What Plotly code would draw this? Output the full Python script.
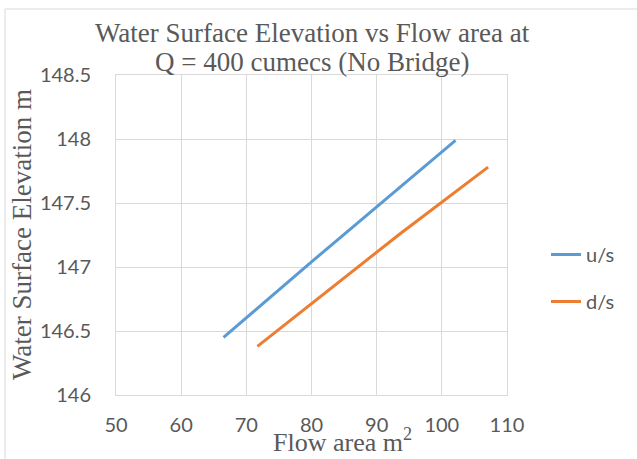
import plotly.graph_objects as go

# Flow area (m^2) against water surface elevation (m), Q = 400 cumecs, no bridge
us_area = [66.5, 80.0, 102.1]
us_wse = [146.45, 147.04, 147.99]
ds_area = [71.7, 93.6, 107.1]
ds_wse = [146.38, 147.26, 147.78]

x_ticks = [50, 60, 70, 80, 90, 100, 110]
y_ticks = [146, 146.5, 147, 147.5, 148, 148.5]
y_tick_text = ["146", "146.5", "147", "147.5", "148", "148.5"]

title_lines = ["Water Surface Elevation vs Flow area at", "Q = 400 cumecs (No Bridge)"]

GRAY_TEXT = "#595959"
GRID = "#d9d9d9"
SERIF = "Liberation Serif"
SANS = "Lato"

W, H = 637, 459
L, R, T, B = 116, 130, 75, 64
pw, ph = W - L - R, H - T - B


def px_x(px):
    return (px - L) / pw


def px_y(py):
    return 1 - (py - T) / ph


fig = go.Figure()
fig.add_trace(go.Scatter(x=us_area, y=us_wse, mode="lines", name="u/s",
                         line=dict(color="#5B9BD5", width=3), legendgroup="a"))
fig.add_trace(go.Scatter(x=ds_area, y=ds_wse, mode="lines", name="d/s",
                         line=dict(color="#ED7D31", width=3), legendgroup="b"))

fig.update_layout(
    width=W, height=H,
    margin=dict(l=L, r=R, t=T, b=B),
    paper_bgcolor="white", plot_bgcolor="white",
    showlegend=True,
    legend=dict(x=px_x(546), xanchor="left", y=px_y(235), yanchor="top",
                font=dict(family=SANS, size=20, color=GRAY_TEXT),
                tracegroupgap=18, traceorder="grouped", bgcolor="rgba(0,0,0,0)"),
    xaxis=dict(range=[50, 110], tickvals=x_ticks, showgrid=True, gridcolor=GRID, gridwidth=1,
               zeroline=False, showline=True, linecolor=GRID, linewidth=1, mirror=True,
               ticks="", ticklabelstandoff=12,
               tickfont=dict(family=SANS, size=20, color=GRAY_TEXT)),
    yaxis=dict(range=[146, 148.5], tickvals=y_ticks, ticktext=y_tick_text, showgrid=True,
               gridcolor=GRID, gridwidth=1, zeroline=False, showline=True, linecolor=GRID,
               linewidth=1, mirror=True, ticks="", ticklabelstandoff=20,
               tickfont=dict(family=SANS, size=20, color=GRAY_TEXT)),
)

# chart title, two lines
for line_text, cy in zip(title_lines, [33, 62]):
    fig.add_annotation(text=line_text, xref="paper", yref="paper",
                       x=px_x(312), y=px_y(cy), xanchor="center", yanchor="middle",
                       showarrow=False, font=dict(family=SERIF, size=27, color=GRAY_TEXT))

# axis titles
fig.add_annotation(text="Flow area m<sup>2</sup>", xref="paper", yref="paper",
                   x=px_x(342), y=px_y(440), xanchor="center", yanchor="middle",
                   showarrow=False, font=dict(family=SERIF, size=26, color=GRAY_TEXT))
fig.add_annotation(text="Water Surface Elevation m", xref="paper", yref="paper",
                   x=px_x(22), y=0.5, xanchor="center", yanchor="middle", textangle=-90,
                   showarrow=False, font=dict(family=SERIF, size=27, color=GRAY_TEXT))

# chart area border
fig.add_shape(type="rect", xref="paper", yref="paper",
              x0=px_x(5), x1=px_x(W + 10), y0=px_y(H + 10), y1=px_y(9),
              line=dict(color=GRID, width=1), layer="below")

fig.write_html("out.html")
